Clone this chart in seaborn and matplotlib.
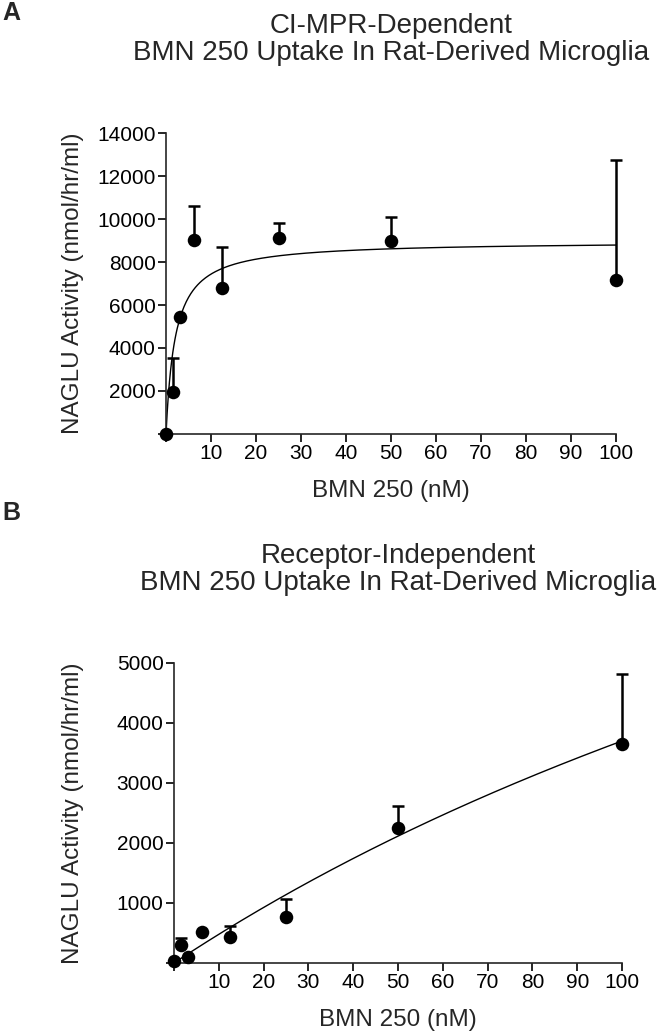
import numpy as np
import pandas as pd
import matplotlib
matplotlib.use("Agg")
import matplotlib.pyplot as plt
import seaborn as sns

# ===============================
# DATA
# ===============================
dose = [0, 1.5625, 3.125, 6.25, 12.5, 25, 50, 100]

# A: CI-MPR-dependent
mean_a = [0, 1950, 5440, 9020, 6790, 9120, 8980, 7160]
err_a = [0, 1580, 0, 1580, 1910, 690, 1110, 5580]
vmax_a, km_a = 8970, 2.06

# B: receptor-independent
mean_b = [30, 300, 100, 520, 440, 770, 2250, 3650]
err_b = [0, 110, 0, 0, 180, 300, 370, 1170]
vmax_b, km_b = 14800, 300

xticks = [10, 20, 30, 40, 50, 60, 70, 80, 90, 100]
yticks_a = [2000, 4000, 6000, 8000, 10000, 12000, 14000]
yticks_b = [1000, 2000, 3000, 4000, 5000]

# ===============================
# STYLE
# ===============================
sns.set_style("ticks")
plt.rcParams['font.family'] = ['Liberation Sans', 'DejaVu Sans']
plt.rcParams['axes.linewidth'] = 1.2
plt.rcParams['xtick.major.width'] = 1.2
plt.rcParams['ytick.major.width'] = 1.2
plt.rcParams['xtick.major.size'] = 6
plt.rcParams['ytick.major.size'] = 6

fig = plt.figure(figsize=(6.58, 10.33), dpi=100)
ax_a = fig.add_axes([0.2523, 0.5799, 0.6839, 0.2913])
ax_b = fig.add_axes([0.2644, 0.0678, 0.6809, 0.2904])


def draw_panel(ax, mean, err, vmax, km, yticks, ymax, title, ylab_x):
    df = pd.DataFrame({'dose': dose, 'mean': mean, 'err': err})
    xfit = np.linspace(0, 100, 400)
    fit = pd.DataFrame({'dose': xfit, 'y': vmax * xfit / (km + xfit)})

    sns.lineplot(data=fit, x='dose', y='y', ax=ax, color='black', lw=1.0)
    ax.errorbar(df['dose'], df['mean'], yerr=[np.zeros(len(df)), df['err']],
                fmt='none', ecolor='black', elinewidth=1.8, capsize=4.5,
                capthick=1.8, clip_on=False, zorder=3)
    sns.scatterplot(data=df, x='dose', y='mean', ax=ax, color='black',
                    s=95, edgecolor='black', linewidth=0, zorder=4,
                    clip_on=False)

    ax.set_xlim(0, 100)
    ax.set_ylim(0, ymax)
    ax.set_xticks([0] + xticks)
    ax.set_xticklabels([''] + [str(t) for t in xticks])
    ax.set_yticks([0] + yticks)
    ax.set_yticklabels([''] + [str(t) for t in yticks])
    ax.tick_params(labelsize=15, colors='black', pad=1.5)
    ax.set_xlabel("BMN 250 (nM)", fontsize=17.5)
    ax.set_ylabel("NAGLU Activity (nmol/hr/ml)", fontsize=17.5)
    ax.xaxis.set_label_coords(0.5, -0.152)
    ax.yaxis.set_label_coords(ylab_x, 0.5)
    ax.text(0.5, 1.311, title, transform=ax.transAxes, ha='center',
            va='center', fontsize=20, linespacing=1.05)
    sns.despine(ax=ax)


draw_panel(ax_a, mean_a, err_a, vmax_a, km_a, yticks_a, 14000,
           "CI-MPR-Dependent\nBMN 250 Uptake In Rat-Derived Microglia", -0.182)
draw_panel(ax_b, mean_b, err_b, vmax_b, km_b, yticks_b, 5000,
           "Receptor-Independent\nBMN 250 Uptake In Rat-Derived Microglia", -0.20)

fig.text(0.004, 0.999, "A", fontsize=18, fontweight='bold', va='top')
fig.text(0.004, 0.515, "B", fontsize=18, fontweight='bold', va='top')

plt.savefig("out.png", dpi=100)
